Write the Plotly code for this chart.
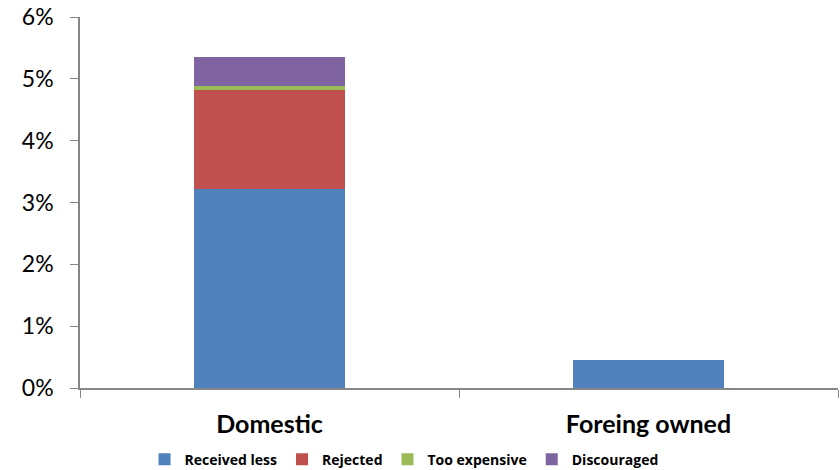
import plotly.graph_objects as go

categories = ["Domestic", "Foreing owned"]
received_less = [3.22, 0.45]
rejected = [1.60, 0.0]
too_expensive = [0.07, 0.0]
discouraged = [0.47, 0.0]

series = [
    ("Received less", received_less, "#4F81BD"),
    ("Rejected", rejected, "#C0504D"),
    ("Too expensive", too_expensive, "#9BBB59"),
    ("Discouraged", discouraged, "#8064A2"),
]

fig = go.Figure()
for name, vals, color in series:
    fig.add_trace(go.Bar(
        x=categories, y=vals, name=name,
        marker=dict(color=color, line=dict(width=0)),
        width=0.4,
    ))

font_family = "Lato, 'Open Sans', sans-serif"
fig.update_layout(
    barmode="stack",
    width=840, height=470,
    margin=dict(l=80, r=2, t=17, b=82, autoexpand=False),
    plot_bgcolor="white", paper_bgcolor="white",
    font=dict(family=font_family, color="black"),
    showlegend=True,
    legend=dict(
        orientation="h", xref="container", yref="container",
        x=0.481, y=0.022, xanchor="center", yanchor="middle",
        font=dict(size=14, family="'Open Sans'", weight="bold"),
        bgcolor="rgba(0,0,0,0)",
        traceorder="normal", itemwidth=30, tracegroupgap=0,
    ),
    xaxis=dict(
        type="category", showline=True, linecolor="#868686", linewidth=1.5,
        ticks="outside", tickson="boundaries", ticklen=8, tickcolor="#868686",
        tickfont=dict(size=25, weight="bold"), ticklabelstandoff=13,
        showgrid=False,
    ),
    yaxis=dict(
        range=[0, 6], dtick=1, ticksuffix="%",
        showline=True, linecolor="#868686", linewidth=1.5,
        ticks="outside", ticklen=8, tickcolor="#868686",
        tickfont=dict(size=23), ticklabelstandoff=12,
        showgrid=False, zeroline=False,
    ),
)

fig.write_html("out.html")
